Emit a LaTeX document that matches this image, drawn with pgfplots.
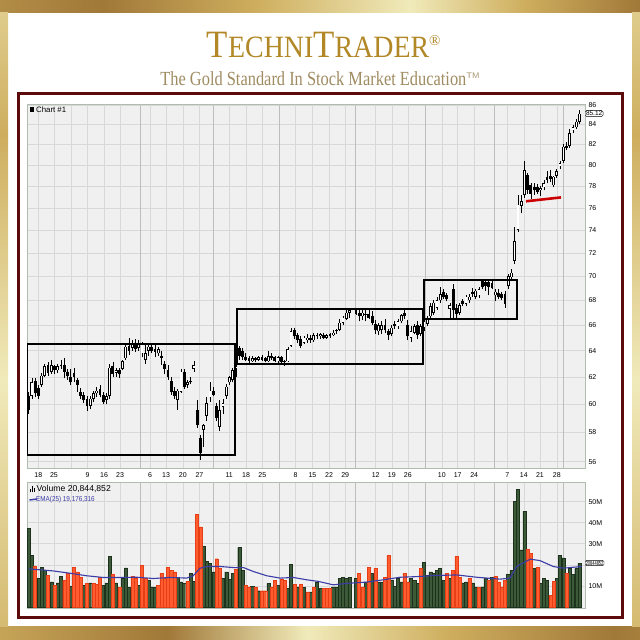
\documentclass[border=0pt]{standalone}
\usepackage{pgfplots}
\pgfplotsset{compat=1.18}
\usepackage{pgfplotstable}
\usepackage{graphicx}
\usepackage{fontspec}
\setmainfont{Liberation Sans}
\newfontfamily\titlefont{Liberation Serif}

\definecolor{panelbg}{RGB}{240,240,240}
\definecolor{gridw}{RGB}{216,216,216}
\definecolor{gridm}{RGB}{188,190,188}
\definecolor{panelframe}{RGB}{176,188,176}
\definecolor{volg}{RGB}{60,90,56}
\definecolor{volgd}{RGB}{28,50,28}
\definecolor{volo}{RGB}{255,92,48}
\definecolor{volod}{RGB}{232,62,22}
\definecolor{emablue}{RGB}{60,60,168}
\definecolor{redline}{RGB}{204,0,0}
\definecolor{maroon}{RGB}{92,10,10}
\definecolor{goldtitle}{RGB}{178,136,38}
\definecolor{goldsub}{RGB}{160,140,98}
\definecolor{gk1}{RGB}{110,80,36}
\definecolor{gk2}{RGB}{206,174,94}
\definecolor{gk3}{RGB}{160,120,56}
\definecolor{gk4}{RGB}{240,234,186}

\pgfdeclarehorizontalshading{goldtop}{100bp}{color(0bp)=(gk1); color(12bp)=(gk2); color(33bp)=(gk3); color(45bp)=(gk2); color(57bp)=(gk4); color(66bp)=(gk2); color(75bp)=(gk3); color(89bp)=(gk4); color(100bp)=(gk2)}
\pgfdeclarehorizontalshading{goldbot}{100bp}{color(0bp)=(gk2); color(6bp)=(gk4); color(22bp)=(gk2); color(38bp)=(gk3); color(49bp)=(gk4); color(60bp)=(gk2); color(73bp)=(gk3); color(88bp)=(gk2); color(100bp)=(gk3)}
\pgfdeclareverticalshading{goldside}{100bp}{color(0bp)=(gk3); color(20bp)=(gk2); color(45bp)=(gk4); color(65bp)=(gk2); color(85bp)=(gk4); color(100bp)=(gk2)}

\newcommand{\tk}{\fontsize{7}{7}\selectfont}

% daily candles: index, open, high, low, close
\pgfplotstableread{
i o h l c
0 60.6 60.9 59.3 59.6
1 60.6 61.9 60.4 61.6
2 61.7 61.9 60.5 60.8
3 61.2 61.4 60.4 60.6
4 61.4 62.3 61.3 62.1
5 62.1 63.0 62.0 62.8
6 62.9 63.1 62.1 62.3
7 62.4 63.3 62.2 62.9
8 62.8 62.9 62.2 62.5
9 62.5 63.0 62.3 62.8
10 62.8 63.3 62.6 62.9
11 62.9 63.4 61.9 62.4
12 62.4 62.6 61.8 62.1
13 62.0 62.6 61.4 61.6
14 62.3 62.7 61.6 62.0
15 61.8 61.9 60.9 61.4
16 60.9 61.2 60.4 60.6
17 60.7 60.9 60.1 60.3
18 60.4 60.6 59.5 59.9
19 59.9 60.6 59.7 60.4
20 60.4 61.0 60.2 60.8
21 60.8 61.3 60.5 61.0
22 61.1 61.4 60.5 60.7
23 60.7 60.9 60.0 60.2
24 60.3 60.8 60.0 60.6
25 60.6 63.0 60.4 62.7
26 62.8 63.1 62.0 62.2
27 62.3 62.7 62.0 62.5
28 62.5 62.7 61.9 62.2
29 62.6 63.3 62.5 63.2
30 63.4 64.5 63.3 64.3
31 64.4 65.0 63.7 64.0
32 64.2 64.8 64.0 64.6
33 64.6 64.9 63.9 64.1
34 64.2 64.8 64.0 64.5
35 63.8 64.7 63.5 64.5
36 63.3 64.5 63.0 63.8
37 64.0 64.6 63.6 64.3
38 64.3 64.6 63.8 64.0
39 64.1 64.6 63.5 63.9
40 63.8 64.3 63.6 64.1
41 63.6 64.0 62.9 63.4
42 63.0 63.2 62.2 62.6
43 62.5 62.9 61.8 62.0
44 61.7 62.0 60.7 60.9
45 61.0 61.3 60.4 60.6
46 60.3 61.1 59.6 61.0
47 60.9 62.6 60.8 62.4
48 62.4 62.6 61.1 61.3
49 61.4 61.8 61.2 61.6
50 61.7 62.0 61.5 61.6
51 62.6 63.2 62.4 62.9
52 59.6 60.3 58.3 58.5
53 57.6 57.8 56.1 56.6
54 58.2 58.6 57.0 58.5
55 59.2 60.5 58.8 60.1
56 60.5 61.6 60.2 61.0
57 61.0 61.3 60.6 60.7
58 59.9 60.1 58.8 59.0
59 58.4 60.3 58.1 59.6
60 59.8 60.4 59.3 60.1
61 60.6 61.5 60.4 61.3
62 61.6 62.1 61.4 62.0
63 61.8 62.7 61.6 62.5
64 62.6 63.0 62.0 62.8
65 64.2 64.4 63.3 63.6
66 64.0 64.2 63.3 63.5
67 63.5 63.8 63.2 63.3
68 63.4 63.6 63.0 63.2
69 63.2 63.6 63.1 63.4
70 63.4 63.5 63.1 63.3
71 63.3 63.6 63.2 63.5
72 63.5 63.7 63.2 63.3
73 63.4 63.5 63.1 63.2
74 63.2 64.0 63.1 63.6
75 63.6 63.8 63.3 63.4
76 63.5 63.6 63.1 63.2
77 63.2 63.6 63.0 63.5
78 63.5 63.6 63.0 63.1
79 63.1 63.3 62.8 63.2
80 63.2 64.3 63.1 64.1
81 64.4 65.8 64.3 65.5
82 65.6 65.8 64.9 65.1
83 65.2 65.4 64.6 64.8
84 64.9 65.1 64.2 64.4
85 64.6 65.1 64.5 65.0
86 64.8 65.3 64.6 65.0
87 65.0 65.2 64.6 64.8
88 64.8 65.4 64.7 65.2
89 65.2 65.4 64.9 65.1
90 65.1 65.4 64.9 65.3
91 65.2 65.4 64.9 65.0
92 65.0 65.3 64.9 65.2
93 65.3 65.4 65.0 65.1
94 65.2 65.6 65.1 65.4
95 65.5 65.7 65.3 65.6
96 65.6 66.5 65.5 66.2
97 66.2 66.7 66.0 66.6
98 66.5 67.2 66.4 67.0
99 67.0 67.4 66.6 67.2
101 67.2 67.4 66.8 66.9
102 67.0 67.3 66.3 66.7
103 66.7 67.3 66.4 67.0
104 66.9 67.3 66.3 66.8
105 66.9 67.2 66.5 66.6
106 66.7 67.1 66.0 66.2
107 66.1 66.4 65.3 65.6
108 65.5 66.2 65.2 66.0
109 65.6 66.3 65.3 66.0
110 66.0 66.5 65.4 65.6
111 65.5 65.7 64.8 65.2
112 65.3 66.0 65.1 65.8
113 66.1 66.3 65.7 65.9
114 65.9 66.5 65.7 66.3
115 66.3 66.9 66.2 66.8
116 67.0 67.3 66.5 66.7
117 66.0 66.4 64.8 65.1
118 65.0 65.9 64.7 65.5
119 65.4 66.1 65.3 65.9
120 66.0 66.3 64.9 65.2
121 65.3 66.1 65.1 65.9
122 65.8 66.6 65.5 66.3
123 66.1 66.7 65.9 66.5
124 66.7 67.8 66.5 67.5
125 67.0 68.0 66.8 67.8
126 67.4 68.3 67.2 68.0
127 68.0 69.1 67.8 68.5
128 68.7 68.9 68.1 68.3
129 68.4 68.6 67.9 68.1
130 67.3 67.8 66.6 67.6
131 68.9 69.3 66.5 67.2
132 67.4 67.7 66.5 66.9
133 67.0 67.8 66.8 67.6
134 67.9 68.1 67.5 67.7
135 67.7 68.4 67.5 68.3
136 68.0 68.5 67.8 68.3
137 68.7 69.0 68.3 68.5
138 68.3 68.9 68.1 68.8
139 68.4 69.1 68.2 68.9
140 69.6 69.7 68.9 69.1
141 69.5 69.6 68.8 69.2
142 69.5 69.7 68.4 69.1
143 69.4 69.6 68.9 69.0
144 68.4 68.9 67.9 68.7
145 68.6 68.9 68.1 68.3
146 68.5 68.7 68.0 68.2
147 68.5 68.8 67.4 67.7
148 69.2 70.2 68.9 70.0
149 69.9 70.6 69.6 70.3
150 71.3 74.3 71.0 73.0
151 74.0 77.2 73.8 76.3
152 76.2 77.2 75.5 76.6
153 77.2 80.4 76.9 79.5
154 79.1 79.3 77.3 77.6
155 78.1 78.3 76.8 77.3
156 77.9 78.3 77.2 77.6
157 77.9 78.2 77.3 77.5
158 77.6 78.0 77.1 77.8
159 77.9 78.6 77.6 78.3
160 78.9 79.4 78.3 78.6
161 79.0 79.5 78.4 78.7
162 78.1 79.0 77.9 78.9
163 79.0 79.6 78.8 79.4
164 79.9 80.4 79.6 80.2
165 80.4 82.1 80.2 81.8
166 81.9 82.2 81.5 81.7
167 81.9 83.5 81.7 83.1
168 83.4 84.0 83.1 83.7
169 83.7 84.6 83.5 84.3
170 84.3 85.5 84.1 85.1
}\candles

% volume in millions, g=1 green (up), g=0 orange (down)
\pgfplotstableread{
i v g
0 37.4 1
1 24.4 1
2 19.2 0
3 13.6 1
4 18.9 1
5 17.4 1
6 15.0 0
7 11.9 1
8 10.3 0
9 11.4 1
10 14.6 1
11 12.7 0
12 16.1 0
13 9.9 1
14 18.9 0
15 16.6 0
16 14.2 0
17 10.3 1
18 11.1 0
19 11.4 1
20 11.1 0
21 10.8 0
22 14.2 0
23 10.3 1
24 11.4 1
25 23.9 1
26 15.5 0
27 11.4 1
28 9.2 0
29 13.5 1
30 18.6 1
31 9.2 1
32 14.6 0
33 13.5 0
34 10.3 1
35 19.7 0
36 13.5 0
37 12.7 1
38 9.5 1
39 9.2 1
40 10.3 0
41 16.1 0
42 13.5 0
43 18.9 0
44 17.4 0
45 16.6 0
46 14.2 1
47 11.9 1
48 11.1 1
49 12.3 0
50 16.1 1
51 12.0 1
52 44.0 0
53 38.0 0
54 28.6 1
55 21.6 1
56 20.8 1
57 16.6 1
58 22.9 0
59 18.2 0
60 13.5 1
61 16.6 1
62 13.0 1
63 16.1 1
64 17.7 0
65 28.3 1
66 17.4 1
67 10.3 0
68 9.5 0
69 9.9 1
70 9.5 0
71 7.7 1
72 7.7 0
73 7.7 0
74 11.1 1
75 9.5 0
76 12.7 0
77 10.3 1
78 13.0 0
79 12.7 0
80 8.8 1
81 20.2 1
82 10.8 0
83 9.5 1
84 10.8 0
85 9.2 1
86 7.2 0
87 7.2 1
88 9.5 0
89 11.6 1
90 8.8 1
91 8.8 0
92 8.8 0
93 8.8 0
94 9.5 1
95 9.5 1
96 13.5 1
97 14.2 1
98 13.5 1
99 14.2 1
101 13.5 1
102 16.1 0
103 9.5 0
104 11.9 1
105 18.9 0
106 16.1 1
107 18.4 0
108 11.9 1
109 11.9 1
110 14.0 0
111 24.4 0
112 12.7 1
113 9.9 1
114 13.5 1
115 11.9 1
116 16.1 0
117 11.9 0
118 13.5 1
119 12.5 1
120 11.1 1
121 18.2 0
122 21.3 1
123 15.0 1
124 16.6 1
125 16.1 1
126 17.4 1
127 18.2 1
128 12.7 1
129 15.8 0
130 13.5 1
131 17.4 0
132 23.9 0
133 14.2 0
134 11.4 1
135 11.9 1
136 13.5 0
137 11.4 1
138 9.5 1
139 9.2 0
140 9.5 1
141 13.5 1
142 12.7 0
143 13.9 1
144 14.6 0
145 11.9 0
146 9.5 0
147 12.7 0
148 15.5 1
149 17.4 1
150 50.2 1
151 55.7 1
152 27.1 1
153 45.5 1
154 27.5 0
155 25.5 0
156 18.2 1
157 18.9 0
158 11.1 1
159 13.5 1
160 12.7 1
161 5.6 0
162 12.3 0
163 13.5 1
164 24.4 1
165 23.3 1
166 16.1 0
167 18.2 1
168 15.5 1
169 18.2 1
170 20.8 1
}\volumes

\begin{document}
\begin{tikzpicture}
\useasboundingbox (0,0) rectangle (640pt,-640pt);
\fill[white] (0,0) rectangle (640pt,-640pt);
\begin{scope}[x=1pt,y=-1pt]
  \shade[shading=goldtop] (0,0) rectangle (640,12);
  \shade[shading=goldbot] (0,626) rectangle (640,640);
  \shade[shading=goldside] (0,12) rectangle (8,626);
  \shade[shading=goldside] (632,12) rectangle (640,626);
  \node[anchor=base, text=goldtitle, inner sep=0pt] at (318,57.3)
    {\titlefont\scalebox{0.9}[1]{\fontsize{38.7}{39}\selectfont T\fontsize{31}{31}\selectfont ECHNI\fontsize{38.7}{39}\selectfont T\fontsize{31}{31}\selectfont RADER}};
  \node[anchor=base west, text=goldtitle, inner sep=0pt] at (429,45)
    {\titlefont\fontsize{15}{15}\selectfont ®};
  \node[anchor=base, text=goldsub, inner sep=0pt] at (320,85)
    {\titlefont\scalebox{0.82}[1]{\fontsize{20}{20}\selectfont The Gold Standard In Stock Market Education}\raisebox{7pt}{\fontsize{8}{8}\selectfont\sffamily TM}};
  \draw[maroon, line width=3.5pt] (18.5,93.5) rectangle (622.5,617.5);
\end{scope}

% price panel
\begin{axis}[
  at={(27pt,-104pt)}, anchor=north west,
  scale only axis, width=558pt, height=364pt,
  xmin=-0.5, xmax=171.7,
  ymode=log, ymin=55.58, ymax=86.1,
  axis background/.style={fill=panelbg},
  axis line style={panelframe, line width=0.6pt},
  ytick={56,58,60,62,64,66,68,70,72,74,76,78,80,82,84,86},
  yticklabels={56,58,60,62,64,66,68,70,72,74,76,78,80,82,84,86},
  yticklabel pos=right,
  yticklabel style={font=\tk},
  xtick={3.0,7.8,13.3,18.2,23.3,28.2,37.5,42.4,47.6,52.7,61.9,67.1,72.1,82.4,87.6,92.7,97.7,107.1,112.1,117.0,127.5,132.4,137.5,147.7,152.8,157.8,163.0},
  xticklabels={18,25,,9,16,23,6,13,20,27,11,18,25,8,15,22,29,12,19,26,10,17,24,7,14,21,28},
  xticklabel style={font=\tk, anchor=center, yshift=-7pt},
  major tick length=0pt,
  xmajorgrids, ymajorgrids,
  major grid style={gridw, line width=0.5pt},
  extra x ticks={34.4,56.9,77.3,100.7,122.3,143.6,164.9},
  extra x tick labels={},
  extra x tick style={grid=major, major grid style={gridm, line width=0.7pt}},
  clip mode=individual,
]
% wicks
\addplot[draw=none, mark=none,
  error bars/y dir=plus, error bars/y explicit, error bars/error mark=none,
  error bars/error bar style={draw=black, line width=0.7pt}]
  table[x=i, y=l, y error plus expr=\thisrow{h}-\thisrow{l}] {\candles};
% bodies
\addplot[draw=none, mark=none,
  error bars/y dir=plus, error bars/y explicit, error bars/error mark=none,
  error bars/error bar style={draw=black, line width=2.8pt}]
  table[x=i, y expr={min(\thisrow{o},\thisrow{c})}, y error plus expr={max(abs(\thisrow{c}-\thisrow{o}),0.1)}] {\candles};
% hollow bodies of up days
\addplot[draw=none, mark=none,
  restrict expr to domain={\thisrow{c}-\thisrow{o}}{0.15:100},
  error bars/y dir=plus, error bars/y explicit, error bars/error mark=none,
  error bars/error bar style={draw=white, line width=1.3pt}]
  table[x=i, y expr=\thisrow{o}+0.05, y error plus expr=\thisrow{c}-\thisrow{o}-0.1] {\candles};
% consolidation boxes
\addplot[black, line width=1.8pt, line join=miter] coordinates {(-0.4,56.45) (-0.4,64.5) (63.7,64.5) (63.7,56.45) (-0.4,56.45)};
\addplot[black, line width=1.8pt, line join=miter] coordinates {(64.4,62.96) (64.4,67.3) (121.8,67.3) (121.8,62.96) (64.4,62.96)};
\addplot[black, line width=1.8pt, line join=miter] coordinates {(122.0,66.5) (122.0,69.7) (150.8,69.7) (150.8,66.5) (122.0,66.5)};
% support line
\addplot[redline, line width=2.6pt] coordinates {(153.5,76.6) (164.3,76.95)};
\node[anchor=west, font=\fontsize{7.8}{8}\selectfont, inner sep=0pt] at (rel axis cs:0,1) [xshift=9pt, yshift=-6pt] {Chart \#1};
\fill[black] (rel axis cs:0,1) ++(3pt,-8.5pt) rectangle ++(4pt,5pt);
\node[draw=black, fill=white, rounded corners=1.5pt, inner sep=0.8pt, anchor=west, font=\fontsize{6.5}{7}\selectfont] at (axis cs:171.7,85.12) {85.12};
\end{axis}

% volume panel
\begin{axis}[
  at={(27pt,-482pt)}, anchor=north west,
  scale only axis, width=558pt, height=126pt,
  xmin=-0.5, xmax=171.7, ymin=-0.5, ymax=59.3,
  axis background/.style={fill=panelbg},
  axis line style={panelframe, line width=0.6pt},
  ytick={10,20,30,40,50}, yticklabels={10M,,30M,40M,50M},
  yticklabel pos=right, yticklabel style={font=\tk},
  xtick={3.0,7.8,13.3,18.2,23.3,28.2,37.5,42.4,47.6,52.7,61.9,67.1,72.1,82.4,87.6,92.7,97.7,107.1,112.1,117.0,127.5,132.4,137.5,147.7,152.8,157.8,163.0},
  xticklabels={},
  major tick length=0pt,
  xmajorgrids, ymajorgrids,
  major grid style={gridw, line width=0.5pt},
  extra x ticks={34.4,56.9,77.3,100.7,122.3,143.6,164.9},
  extra x tick labels={},
  extra x tick style={grid=major, major grid style={gridm, line width=0.7pt}},
  clip mode=individual,
]
\addplot[ybar, bar shift=0pt, bar width=0.95, fill=volg, draw=volgd, line width=0.4pt,
  restrict expr to domain={\thisrow{g}}{0.5:1.5}] table[x=i, y=v] {\volumes};
\addplot[ybar, bar shift=0pt, bar width=0.95, fill=volo, draw=volod, line width=0.4pt,
  restrict expr to domain={\thisrow{g}}{-0.5:0.5}] table[x=i, y=v] {\volumes};
% EMA(25)
\addplot[emablue, line width=1.1pt, mark=none] coordinates {
  (0,18.1) (7.6,17.1) (12.8,16.0) (17.9,14.8) (23,14.0) (28.2,14.0) (33.4,14.1)
  (38.5,13.5) (43.6,14.0) (48.8,13.7) (50.8,14.8) (52.9,18.4) (55,19.2) (59.1,19.2)
  (63.2,18.7) (66.3,18.7) (69.4,16.8) (73.5,14.8) (77.6,13.7) (81.7,14.0) (85.8,12.9)
  (89.5,12.1) (94,10.5) (99.2,11.3) (104.3,11.8) (109.5,12.9) (114.6,14.1) (119.8,14.4)
  (124.9,14.9) (132.1,15.2) (138.3,14.1) (145.5,13.2) (148.6,13.7) (150.6,19.2)
  (154.8,22.7) (157.8,22.0) (161.9,19.2) (165,18.4) (170.7,19.2)
};
\node[anchor=west, font=\fontsize{8.6}{9}\selectfont, inner sep=0pt] at (rel axis cs:0,1) [xshift=9.5pt, yshift=-7pt] {Volume 20,844,852};
\fill[black] (rel axis cs:0,1) ++(3pt,-10pt) rectangle ++(1.2pt,3.5pt);
\fill[black] (rel axis cs:0,1) ++(4.8pt,-10pt) rectangle ++(1.2pt,6pt);
\fill[black] (rel axis cs:0,1) ++(6.6pt,-10pt) rectangle ++(1.2pt,4.5pt);
\node[anchor=west, text=emablue, font=\fontsize{7.2}{8}\selectfont, inner sep=0pt] at (rel axis cs:0,1) [xshift=9pt, yshift=-18pt] {\scalebox{0.88}[1]{EMA(25) 19,176,316}};
\draw[emablue, line width=1.4pt] (rel axis cs:0,1) ++(2.5pt,-18pt) -- ++(6pt,0);
\node[draw=black, fill=white, rounded corners=1.2pt, inner sep=0.6pt, anchor=west, font=\fontsize{5.8}{6}\selectfont] at (axis cs:171.7,20.84) {\scalebox{0.68}[1]{20844852}};
\end{axis}
\end{tikzpicture}
\end{document}
